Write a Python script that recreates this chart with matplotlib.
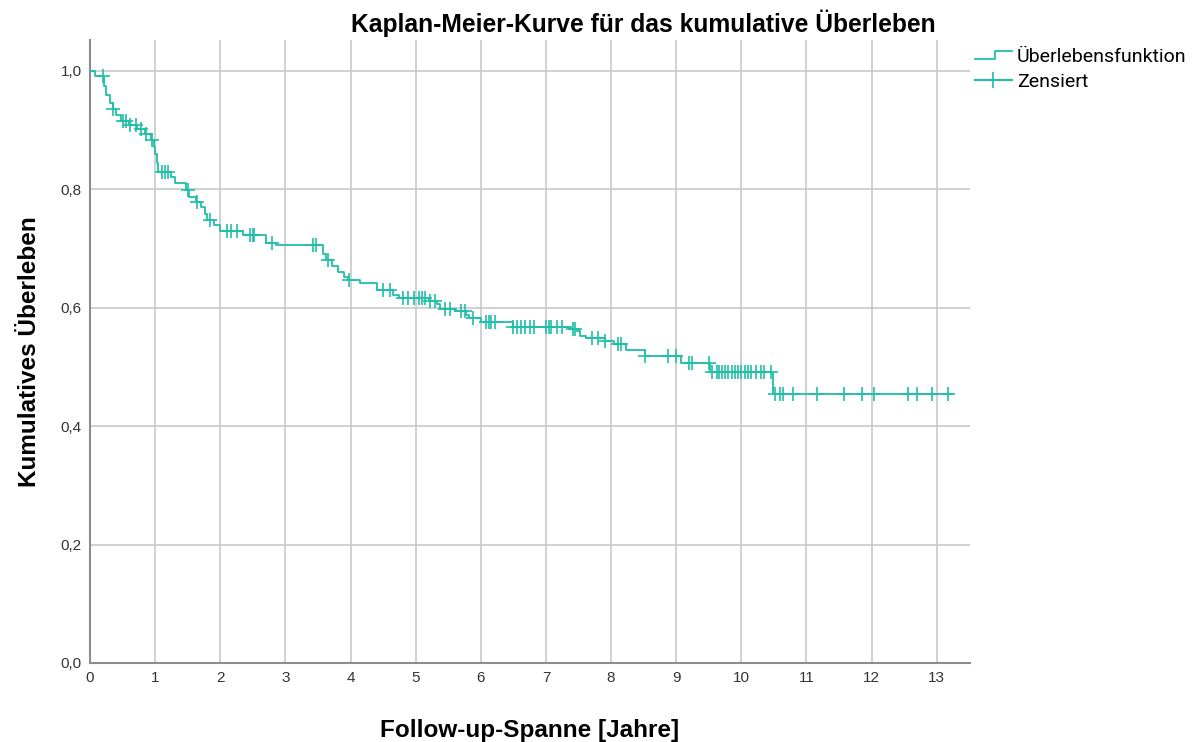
import matplotlib
matplotlib.use("Agg")
from matplotlib import pyplot as plt
from matplotlib.lines import Line2D
from matplotlib.legend_handler import HandlerBase
from matplotlib.ticker import FuncFormatter
import numpy as np

# Kaplan-Meier step data (time in years, survival after the drop)
event_t = [0.08, 0.22, 0.24, 0.30, 0.35, 0.40, 0.47, 0.60, 0.72, 0.85, 0.93, 0.98,
           1.00, 1.03, 1.05, 1.25, 1.30, 1.48, 1.52, 1.62, 1.70, 1.76, 1.80, 1.90,
           2.00, 2.35, 2.70, 2.85, 3.58, 3.62, 3.72, 3.80, 3.90, 3.96, 4.14, 4.40,
           4.65, 4.75, 5.20, 5.32, 5.37, 5.60, 5.78, 5.82, 6.00, 6.50, 7.38, 7.47,
           7.52, 7.62, 7.90, 8.05, 8.23, 8.52, 9.08, 9.52, 10.49]
surv = [0.992, 0.975, 0.960, 0.945, 0.935, 0.925, 0.915, 0.908, 0.902, 0.893, 0.884, 0.872,
        0.860, 0.845, 0.830, 0.820, 0.810, 0.798, 0.787, 0.778, 0.770, 0.758, 0.748, 0.740,
        0.730, 0.722, 0.710, 0.706, 0.690, 0.680, 0.670, 0.660, 0.652, 0.646, 0.641, 0.630,
        0.622, 0.617, 0.612, 0.606, 0.598, 0.594, 0.588, 0.582, 0.576, 0.568, 0.564, 0.560,
        0.553, 0.548, 0.543, 0.538, 0.529, 0.518, 0.506, 0.492, 0.455]
end_t = 13.23

# censored observations
censor_t = [0.20, 0.36, 0.50, 0.56, 0.62, 0.70, 0.78, 0.86, 0.95, 1.10, 1.15, 1.20,
            1.50, 1.65, 1.85, 2.10, 2.17, 2.25, 2.45, 2.50, 2.52, 2.80, 3.42, 3.47,
            3.65, 3.97, 4.50, 4.60, 4.80, 4.88, 4.97, 5.05, 5.10, 5.15, 5.22, 5.30,
            5.45, 5.52, 5.70, 5.75, 5.88, 6.08, 6.12, 6.15, 6.22, 6.50, 6.55, 6.62,
            6.68, 6.75, 6.82, 7.00, 7.05, 7.08, 7.17, 7.25, 7.42, 7.45, 7.70, 7.80,
            7.90, 8.10, 8.15, 8.52, 8.88, 9.00, 9.20, 9.25, 9.50, 9.55, 9.62, 9.66,
            9.70, 9.75, 9.80, 9.85, 9.90, 9.95, 10.00, 10.05, 10.10, 10.15, 10.22,
            10.30, 10.35, 10.45, 10.51, 10.59, 10.64, 10.80, 11.16, 11.57, 11.85,
            12.03, 12.56, 12.69, 12.92, 13.18]

color = "#1fbfa9"
grid_col = "#c8c8c8"

# build step arrays
xs = np.array([0.0] + event_t + [end_t])
ys = np.array([1.0] + surv + [surv[-1]])
idx = np.searchsorted(xs, censor_t, side="right") - 1
censor_s = ys[idx]


class StepHandler(HandlerBase):
    def create_artists(self, legend, orig_handle, xd, yd, width, height, fontsize, trans):
        x = [xd, xd + width*0.55, xd + width*0.55, xd + width]
        y = [yd + height*0.2, yd + height*0.2, yd + height*0.85, yd + height*0.85]
        l = Line2D(x, y, color=color, lw=1.3, transform=trans)
        return [l]


fig = plt.figure(figsize=(11.95, 7.42), dpi=100)
ax = fig.add_axes([0.0753, 0.1065, 0.7364, 0.8395])

ax.step(xs, ys, where="post", color=color, lw=1.3, zorder=3)
ax.plot(censor_t, censor_s, ls="none", marker="+", ms=10, mew=1.2, color=color, zorder=4)

ax.set_xlim(0, 13.51)
ax.set_ylim(0, 1.052)
ax.set_xticks(range(0, 14))
ax.set_yticks([0, 0.2, 0.4, 0.6, 0.8, 1.0])
ax.yaxis.set_major_formatter(FuncFormatter(lambda v, p: ("%.1f" % v).replace(".", ",")))
ax.grid(True, color=grid_col, lw=1.2)
ax.set_axisbelow(True)
for s in ["top", "right"]:
    ax.spines[s].set_visible(False)
for s in ["left", "bottom"]:
    ax.spines[s].set_color("#8c8c8c")
    ax.spines[s].set_linewidth(1.5)
ax.tick_params(length=0, labelsize=11, colors="#333333", pad=6)
for lab in ax.get_xticklabels() + ax.get_yticklabels():
    lab.set_fontfamily("Liberation Sans")

ax.set_xlabel("Follow-up-Spanne [Jahre]", fontsize=17.5, fontweight="bold",
              family="Liberation Sans", labelpad=24)
ax.set_ylabel("Kumulatives Überleben", fontsize=17.5, fontweight="bold",
              family="Liberation Sans", labelpad=14)
fig.text(0.538, 0.969, "Kaplan-Meier-Kurve für das kumulative Überleben", fontsize=17.7,
         fontweight="bold", family="Liberation Sans", ha="center", va="center")

h1 = Line2D([], [], color=color)
h2 = Line2D([], [], color=color, marker="+", ms=12, mew=1.2)
leg = fig.legend([h1, h2], ["Überlebensfunktion", "Zensiert"],
                 handler_map={h1: StepHandler()},
                 loc="upper left", bbox_to_anchor=(0.811, 0.943),
                 frameon=False, prop={"family": "Roboto", "size": 14},
                 handlelength=1.9, handletextpad=0.26, labelspacing=0.35,
                 borderaxespad=0, borderpad=0.3)

plt.savefig("out.png", dpi=100)
plt.close()
